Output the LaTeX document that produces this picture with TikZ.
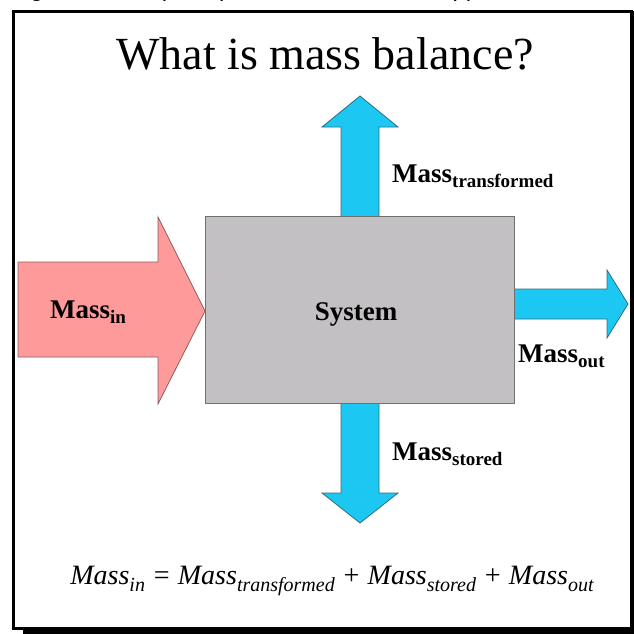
\documentclass[tikz,border=0pt]{standalone}
\usepackage{fontspec}
\setmainfont{Liberation Serif}
\setsansfont{Liberation Sans}
\definecolor{pinkfill}{HTML}{FF9A9A}
\definecolor{pinkedge}{HTML}{8A6060}
\definecolor{cyanfill}{HTML}{1CC8F2}
\definecolor{cyanedge}{HTML}{2F6F80}
\definecolor{boxgray}{HTML}{C2C0C2}
\definecolor{boxedge}{HTML}{707070}
\newcommand\bsub[1]{\raisebox{-0.2em}{\fontsize{19}{19}\selectfont\bfseries #1}}
\newcommand\isub[1]{\raisebox{-0.25em}{\fontsize{20}{20}\selectfont\itshape #1}}
\tikzset{
  lbl/.style={inner sep=0pt, anchor=base west, font=\bfseries\fontsize{27}{27}\selectfont},
  pinkarrow/.style={fill=pinkfill, draw=pinkedge, line width=0.8pt, line join=miter},
  cyanarrow/.style={fill=cyanfill, draw=cyanedge, line width=0.8pt, line join=miter},
}
\begin{document}
\begin{tikzpicture}[x=1pt,y=-1pt]
\useasboundingbox (0,0) rectangle (634,634);
\fill[white] (0,0) rectangle (634,634);
% clipped caption line above the frame (only its lowest strip is visible)
\begin{scope}
  \clip (0,0) rectangle (634,6);
  \node[inner sep=0pt, anchor=base west, font=\sffamily\fontsize{24}{24}\selectfont] (caption) at (10,-3) {Figure 1: The principle of mass balance approach};
\end{scope}
% frame with shadow
\draw[line width=3pt] (13.5,11.5) rectangle (631.5,628.5);
\fill (23,628) rectangle (634,634);
\fill (630,11) rectangle (634,634);
% title
\node[inner sep=0pt, anchor=base, font=\fontsize{46}{46}\selectfont] (title) at (325,70) {What is mass balance?};
% arrows
\draw[pinkarrow] (18,262) -- (158,262) -- (158,217) -- (205,311) -- (158,404) -- (158,357) -- (18,357) -- cycle;
\draw[cyanarrow] (513,289) -- (607,289) -- (607,270) -- (628,304) -- (607,338) -- (607,319) -- (513,319) -- cycle;
\draw[cyanarrow] (341,217) -- (341,127) -- (322,127) -- (360,96) -- (398,127) -- (379,127) -- (379,217) -- cycle;
\draw[cyanarrow] (341,402) -- (341,493) -- (322,493) -- (360,523) -- (398,493) -- (379,493) -- (379,402) -- cycle;
% system box
\node[draw=boxedge, fill=boxgray, line width=0.8pt, minimum width=309pt, minimum height=187pt, inner sep=0pt, anchor=north west] (sys) at (205,216) {};
\node[inner sep=0pt, anchor=base, font=\bfseries\fontsize{27}{27}\selectfont] (systxt) at (356,320) {System};
% labels
\node[lbl] (min) at (50,318) {Mass\bsub{in}};
\node[lbl] (mout) at (518,362) {Mass\bsub{out}};
\node[lbl] (mtr) at (392,182) {Mass\bsub{transformed}};
\node[lbl] (mst) at (392,460) {Mass\bsub{stored}};
% equation
\node[inner sep=0pt, anchor=base, font=\itshape\fontsize{28}{28}\selectfont] (eq) at (332,584)
  {Mass\isub{in} = Mass\isub{transformed} + Mass\isub{stored} + Mass\isub{out}};
\end{tikzpicture}
\end{document}
